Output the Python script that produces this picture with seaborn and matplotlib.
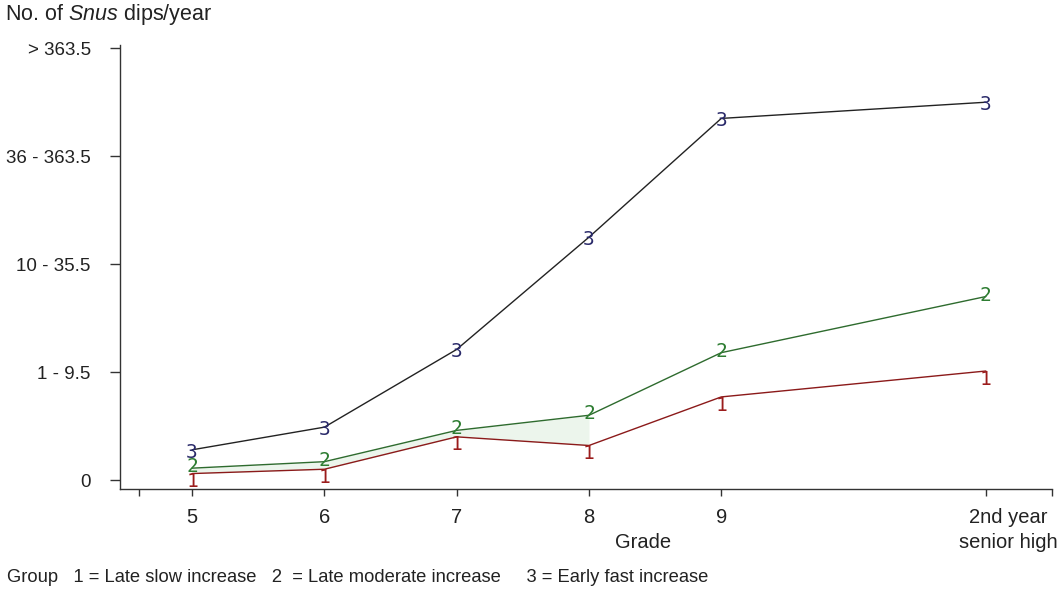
import matplotlib
matplotlib.use("Agg")
import matplotlib.pyplot as plt
import matplotlib.transforms as mtransforms
import seaborn as sns
import pandas as pd

grades = [5, 6, 7, 8, 9, 11]
grade_labels = ["5", "6", "7", "8", "9", "2nd year\nsenior high"]
y_labels = ["0", "1 - 9.5", "10 - 35.5", "36 - 363.5", "> 363.5"]

group1 = [0.06, 0.10, 0.40, 0.32, 0.77, 1.01]
group2 = [0.11, 0.17, 0.46, 0.60, 1.18, 1.70]
group3 = [0.28, 0.49, 1.21, 2.25, 3.35, 3.50]

groups = ["1", "2", "3"]
colors = {"1": "#9b1c1c", "2": "#2e7d32", "3": "#2a2a6a"}
line_cols = {"1": "#8b1a1a", "2": "#2e6b2e", "3": "#222222"}
# vertical anchoring of the digit markers (as in the reference)
marker_va = {"1": ("top", 1), "2": ("center", 1), "3": ("top", 5)}

sns.set_style("white")
plt.rcParams["font.family"] = ["Liberation Sans", "DejaVu Sans"]
plt.rcParams["mathtext.fontset"] = "custom"
plt.rcParams["mathtext.it"] = "Liberation Sans:italic"
plt.rcParams["mathtext.rm"] = "Liberation Sans"

df = pd.DataFrame({
    "grade": grades * 3,
    "value": group1 + group2 + group3,
    "group": ["1"] * 6 + ["2"] * 6 + ["3"] * 6,
})

fig = plt.figure(figsize=(10.62, 5.90), dpi=100)
ax = fig.add_axes([0.113, 0.1712, 0.8776, 0.7525])

# faint shading between groups 1 and 2
ax.fill_between(grades[:4], group1[:4], group2[:4], color="#eaf4ea", alpha=0.9, lw=0, zorder=1)

sns.lineplot(data=df, x="grade", y="value", hue="group", palette=line_cols,
             linewidth=1.0, legend=False, ax=ax, zorder=2)

for g, vals in zip(groups, [group1, group2, group3]):
    va, off = marker_va[g]
    for x, v in zip(grades, vals):
        ax.annotate(g, (x, v), xytext=(0, off), textcoords="offset points",
                    color=colors[g], fontsize=14, family="DejaVu Sans Mono",
                    ha="center", va=va, fontweight="light", zorder=3)

ax.set_xlim(4.455, 11.5)
ax.set_ylim(-0.083, 4.03)

ax.set_xticks([4.6] + grades + [11.5])
ax.set_xticklabels([""] + grade_labels + [""], fontsize=14.5, linespacing=1.35)
ax.set_yticks(range(5))
ax.set_yticklabels(y_labels, fontsize=13.5)

for s in ["top", "right"]:
    ax.spines[s].set_visible(False)
for s in ["left", "bottom"]:
    ax.spines[s].set_color("#333333")
    ax.spines[s].set_linewidth(1.0)
ax.tick_params(axis="x", bottom=True, direction="out", length=5, width=1, color="#333333",
               labelcolor="#222222", pad=9)
ax.tick_params(axis="y", left=True, direction="out", length=7, width=1, color="#333333",
               labelcolor="#222222", pad=14)
ax.set_xlabel("")
ax.set_ylabel("")

# shift the last grade label slightly right, as in the reference
lbl = ax.get_xticklabels()[6]
lbl.set_transform(lbl.get_transform() + mtransforms.ScaledTranslation(0.22, 0, fig.dpi_scale_trans))

fig.text(0.005, 0.975, r"No. of $\it{Snus}$ dips/year", fontsize=15.5, color="#222222",
         ha="left", va="center")
fig.text(643 / 1062, 1 - 542 / 590, "Grade", fontsize=14.5, color="#222222",
         ha="center", va="center")
fig.text(0.007, 1 - 577 / 590,
         "Group   1 = Late slow increase   2  = Late moderate increase     3 = Early fast increase",
         fontsize=13.2, color="#222222", ha="left", va="center")

fig.savefig("out.png", dpi=100)
